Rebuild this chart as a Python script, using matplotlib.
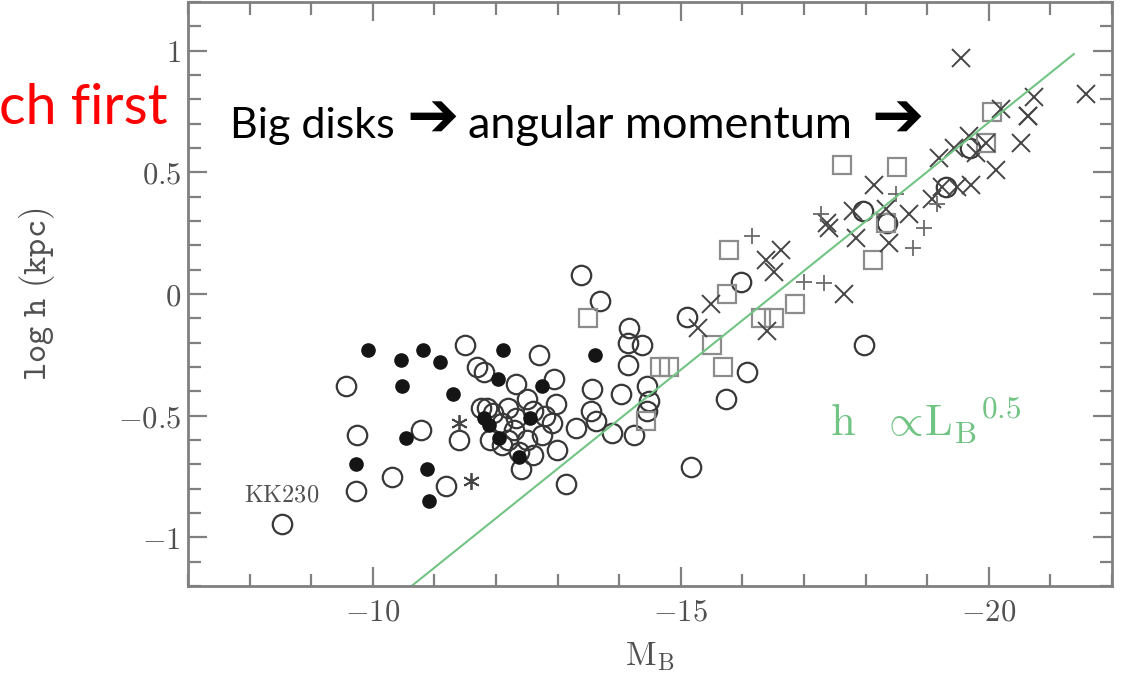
"""
Disk scale length vs absolute B magnitude (log h vs M_B), slide-style figure.
Output: out.png
"""
import matplotlib
matplotlib.use("Agg")
import matplotlib.pyplot as plt
from matplotlib.ticker import MultipleLocator, FuncFormatter

plt.rcParams["mathtext.fontset"] = "cm"

# --- data (M_B, log h [kpc]) ---
OPEN_MB = [-9.56, -9.74, -9.72, -10.31, -10.78, -11.19, -11.40, -11.49, -12.69, -11.69,
           -11.80, -12.94, -13.56, -14.03, -13.13, -8.52, -12.32, -14.16, -14.14, -14.37,
           -14.14, -14.45, -14.48, -14.45, -11.85, -12.50, -12.97, -12.32, -12.91, -13.30,
           -13.54, -13.62, -13.88, -14.24, -12.37, -12.40, -12.99, -12.74, -12.09, -15.16,
           -15.73, -16.07, -17.97, -13.38, -13.69, -15.10, -15.97, -11.75, -11.95, -12.20,
           -12.60, -12.10, -12.20, -12.50, -12.80, -11.90, -12.30, -12.60, -17.95, -18.35,
           -19.30, -19.70]
OPEN_LOGH = [-0.38, -0.58, -0.81, -0.75, -0.56, -0.79, -0.60, -0.21, -0.25, -0.30,
             -0.32, -0.35, -0.39, -0.41, -0.78, -0.945, -0.37, -0.14, -0.20, -0.21,
             -0.29, -0.38, -0.44, -0.48, -0.47, -0.43, -0.45, -0.51, -0.53, -0.55,
             -0.48, -0.52, -0.57, -0.58, -0.65, -0.72, -0.64, -0.58, -0.62, -0.71,
             -0.43, -0.32, -0.21, 0.08, -0.03, -0.095, 0.05, -0.47, -0.49, -0.47,
             -0.48, -0.53, -0.60, -0.60, -0.50, -0.60, -0.56, -0.66, 0.34, 0.29,
             0.44, 0.60]

FILLED_MB = [-9.92, -10.45, -10.47, -9.72, -10.54, -10.88, -10.91, -10.81, -11.09, -11.31,
             -12.11, -12.03, -12.74, -13.60, -11.88, -12.05, -12.55, -12.37, -11.80]
FILLED_LOGH = [-0.23, -0.27, -0.38, -0.70, -0.59, -0.72, -0.85, -0.23, -0.28, -0.41,
               -0.23, -0.35, -0.38, -0.25, -0.54, -0.59, -0.51, -0.67, -0.51]

SQUARE_MB = [-17.61, -18.51, -15.78, -18.12, -16.85, -15.75, -20.05, -13.49, -16.30, -16.51,
             -15.68, -14.66, -14.81, -14.43, -15.50, -18.33, -19.95]
SQUARE_LOGH = [0.53, 0.52, 0.18, 0.14, -0.04, 0.0, 0.75, -0.10, -0.10, -0.10,
               -0.30, -0.30, -0.30, -0.52, -0.21, 0.29, 0.62]

CROSS_MB = [-19.55, -21.57, -20.63, -20.19, -20.73, -20.52, -20.11, -19.79, -19.95, -19.68,
            -19.43, -19.19, -19.71, -19.48, -19.24, -19.07, -18.13, -17.79, -18.33, -18.70,
            -17.37, -17.84, -18.38, -17.65, -16.62, -16.38, -16.51, -16.40, -15.49, -15.28,
            -17.40, -20.63]
CROSS_LOGH = [0.97, 0.82, 0.73, 0.76, 0.81, 0.62, 0.51, 0.58, 0.62, 0.65,
              0.60, 0.56, 0.45, 0.44, 0.44, 0.39, 0.45, 0.34, 0.35, 0.33,
              0.29, 0.23, 0.21, 0.0, 0.18, 0.14, 0.09, -0.15, -0.04, -0.14,
              0.27, 0.73]

PLUS_MB = [-16.15, -17.27, -18.94, -18.77, -17.00, -17.32, -19.16, -18.49]
PLUS_LOGH = [0.24, 0.33, 0.27, 0.19, 0.05, 0.045, 0.37, 0.41]

STAR_MB = [-11.40, -11.59]
STAR_LOGH = [-0.53, -0.77]

# h ~ L_B^0.5 reference line end points
LINE_MB = [-10.63, -21.38]
LINE_LOGH = [-1.2, 0.986]

GREEN = "#72c484"
AXIS_GREY = "#808080"
LABEL_GREY = "#505050"
SLIDE_FONT = ["Lato", "DejaVu Sans"]


def math_label(v, _pos):
    return rf"${v:g}$"


def px(x, y):
    """Figure fraction from pixel position (origin top-left)."""
    return x / 1121, 1 - y / 680


def plot_chart():
    fig = plt.figure(figsize=(11.21, 6.80), dpi=100)
    ax = fig.add_axes([188 / 1121, 94 / 680, 924 / 1121, 584 / 680])

    ax.plot(OPEN_MB, OPEN_LOGH, "o", ms=14, mfc="none", mec="#383838", mew=1.6)
    ax.plot(FILLED_MB, FILLED_LOGH, "o", ms=9.5, mfc="#151515", mec="#151515", mew=1)
    ax.plot(SQUARE_MB, SQUARE_LOGH, "s", ms=12.5, mfc="none", mec="#8c8c8c", mew=1.6)
    ax.plot(CROSS_MB, CROSS_LOGH, "x", ms=13, mec="#454545", mew=1.4)
    ax.plot(PLUS_MB, PLUS_LOGH, "+", ms=12, mec="#6a6a6a", mew=1.3)
    ax.plot(STAR_MB, STAR_LOGH, marker=(6, 2, 0), ls="none", ms=12, mec="#454545", mew=1.3)
    ax.plot(LINE_MB, LINE_LOGH, color=GREEN, lw=1.5)

    ax.set_xlim(-7, -22)
    ax.set_ylim(-1.2, 1.2)
    ax.xaxis.set_major_locator(MultipleLocator(5))
    ax.xaxis.set_minor_locator(MultipleLocator(1))
    ax.yaxis.set_major_locator(MultipleLocator(0.5))
    ax.yaxis.set_minor_locator(MultipleLocator(0.1))
    ax.xaxis.set_major_formatter(FuncFormatter(math_label))
    ax.yaxis.set_major_formatter(FuncFormatter(math_label))

    ax.tick_params(which="both", direction="in", top=True, right=True,
                   color=AXIS_GREY, labelcolor=LABEL_GREY, labelsize=22, width=1.6)
    ax.tick_params(which="major", length=14)
    ax.tick_params(which="minor", length=9)
    ax.tick_params(axis="x", which="major", pad=8)
    ax.tick_params(axis="y", which="major", pad=5)
    for sp in ax.spines.values():
        sp.set_color(AXIS_GREY)
        sp.set_linewidth(2)

    ax.set_xlabel(r"$\mathrm{M_B}$", fontsize=24, color=LABEL_GREY, labelpad=10)
    ax.set_ylabel(r"$\mathtt{log\ h\ (kpc)}$", fontsize=25, color=LABEL_GREY, labelpad=44)

    ax.text(-7.91, -0.851, r"$\mathrm{KK230}$", fontsize=17.5, color=LABEL_GREY, va="baseline")
    ax.text(-17.42, -0.584, r"$\mathrm{h}\ \ \propto\!\mathrm{L_B}^{0.5}$", fontsize=32,
            color=GREEN, va="baseline")

    # slide annotations
    fig.text(*px(230, 138), "Big disks", fontsize=31, family=SLIDE_FONT, va="baseline")
    fig.text(*px(406, 119), "\u2794", fontsize=45, family=SLIDE_FONT, va="center")
    fig.text(*px(468, 138), "angular momentum", fontsize=32.5, family=SLIDE_FONT, va="baseline")
    fig.text(*px(871, 119), "\u2794", fontsize=45, family=SLIDE_FONT, va="center")
    fig.text(*px(168, 124), "ch first", fontsize=40, family=SLIDE_FONT,
             color="red", ha="right", va="baseline")

    fig.savefig("out.png", dpi=100)
    plt.close(fig)


if __name__ == "__main__":
    plot_chart()
